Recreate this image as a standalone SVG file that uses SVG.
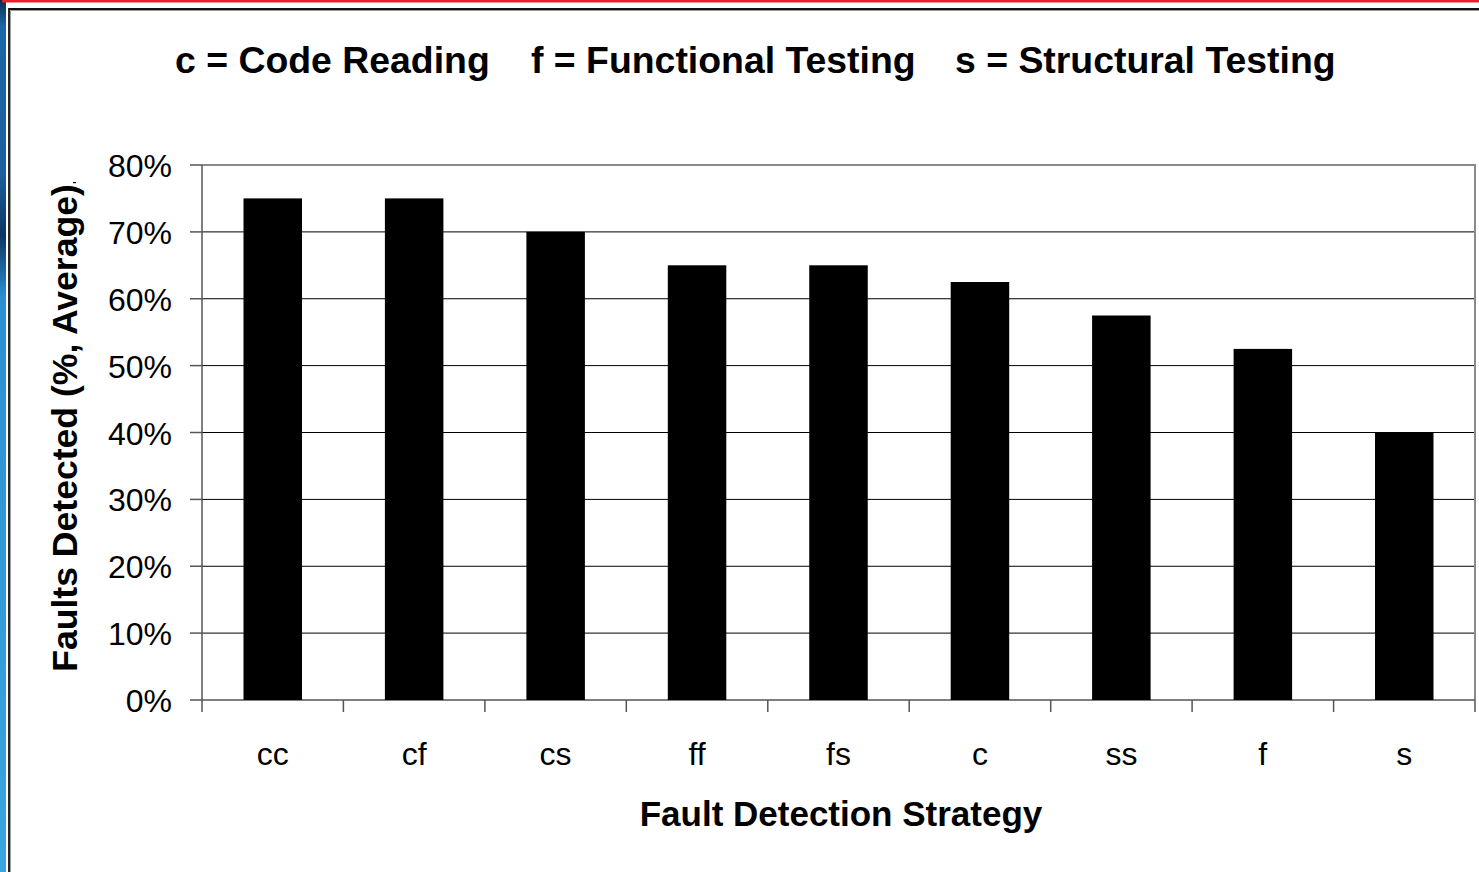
<svg xmlns="http://www.w3.org/2000/svg" width="1479" height="872" viewBox="0 0 1479 872">
  <defs>
    <linearGradient id="blueStrip" x1="0" y1="0" x2="0" y2="1">
      <stop offset="0" stop-color="#0a2c52"/>
      <stop offset="0.03" stop-color="#1c67a6"/>
      <stop offset="0.2" stop-color="#1b5f9c"/>
      <stop offset="0.27" stop-color="#0b3663"/>
      <stop offset="0.34" stop-color="#2b8fd0"/>
      <stop offset="1" stop-color="#3ba5df"/>
    </linearGradient>
  </defs>
  <style>
    .title { font-family: "Liberation Sans", Arial, sans-serif; font-weight: bold; font-size: 37.4px; fill: #000; }
    .axtitle { font-family: "Liberation Sans", Arial, sans-serif; font-weight: bold; font-size: 35px; fill: #000; }
    .tick { font-family: "Liberation Sans", Arial, sans-serif; font-size: 32px; fill: #000; }
    .grid { stroke: #000; stroke-width: 1; }
    .tk { stroke: #555; stroke-width: 1.5; }
    .bar { fill: #000; }
  </style>
  <rect x="0" y="0" width="1479" height="872" fill="#fff"/>
  <g id="frame">
    <rect x="0" y="0" width="6" height="872" fill="url(#blueStrip)"/>
    <rect x="2" y="0" width="1477" height="2.5" fill="#e8202e"/>
    <path d="M9 880 V9 H1490" fill="none" stroke="#111" stroke-width="1.8"/>
    <path d="M10.5 880 V10.5 H1490" fill="none" stroke="#9a9a9a" stroke-width="1"/>
  </g>
  <g id="title">
    <text class="title" x="175" y="73">c = Code Reading</text>
    <text class="title" x="531" y="73">f = Functional Testing</text>
    <text class="title" x="955" y="73">s = Structural Testing</text>
  </g>
  <g id="gridlines">
    <line class="grid" x1="202" y1="231.9" x2="1475" y2="231.9"/>
    <line class="grid" x1="202" y1="298.75" x2="1475" y2="298.75"/>
    <line class="grid" x1="202" y1="365.6" x2="1475" y2="365.6"/>
    <line class="grid" x1="202" y1="432.5" x2="1475" y2="432.5"/>
    <line class="grid" x1="202" y1="499.4" x2="1475" y2="499.4"/>
    <line class="grid" x1="202" y1="566.25" x2="1475" y2="566.25"/>
    <line class="grid" x1="202" y1="633.1" x2="1475" y2="633.1"/>
  </g>
  <g id="plot-border">
    <path d="M202 165 H1475 V700" fill="none" stroke="#8a8a8a" stroke-width="2"/>
    <line x1="202" y1="165" x2="202" y2="712" stroke="#555" stroke-width="1.5"/>
    <line x1="202" y1="700" x2="1475" y2="700" stroke="#555" stroke-width="1.5"/>
  </g>
  <g id="bars">
    <rect class="bar" x="243.5" y="198.4" width="58.5" height="501.6"/>
    <rect class="bar" x="384.9" y="198.4" width="58.5" height="501.6"/>
    <rect class="bar" x="526.4" y="231.9" width="58.5" height="468.1"/>
    <rect class="bar" x="667.8" y="265.3" width="58.5" height="434.7"/>
    <rect class="bar" x="809.25" y="265.3" width="58.5" height="434.7"/>
    <rect class="bar" x="950.7" y="282" width="58.5" height="418"/>
    <rect class="bar" x="1092.1" y="315.5" width="58.5" height="384.5"/>
    <rect class="bar" x="1233.6" y="348.9" width="58.5" height="351.1"/>
    <rect class="bar" x="1375" y="432.5" width="58.5" height="267.5"/>
  </g>
  <g id="y-ticks">
    <line class="tk" x1="190" y1="165" x2="202" y2="165"/>
    <line class="tk" x1="190" y1="231.9" x2="202" y2="231.9"/>
    <line class="tk" x1="190" y1="298.75" x2="202" y2="298.75"/>
    <line class="tk" x1="190" y1="365.6" x2="202" y2="365.6"/>
    <line class="tk" x1="190" y1="432.5" x2="202" y2="432.5"/>
    <line class="tk" x1="190" y1="499.4" x2="202" y2="499.4"/>
    <line class="tk" x1="190" y1="566.25" x2="202" y2="566.25"/>
    <line class="tk" x1="190" y1="633.1" x2="202" y2="633.1"/>
    <line class="tk" x1="190" y1="700" x2="202" y2="700"/>
  </g>
  <g id="x-ticks">
    <line class="tk" x1="343.4" y1="700" x2="343.4" y2="712"/>
    <line class="tk" x1="484.9" y1="700" x2="484.9" y2="712"/>
    <line class="tk" x1="626.3" y1="700" x2="626.3" y2="712"/>
    <line class="tk" x1="767.8" y1="700" x2="767.8" y2="712"/>
    <line class="tk" x1="909.2" y1="700" x2="909.2" y2="712"/>
    <line class="tk" x1="1050.7" y1="700" x2="1050.7" y2="712"/>
    <line class="tk" x1="1192.1" y1="700" x2="1192.1" y2="712"/>
    <line class="tk" x1="1333.6" y1="700" x2="1333.6" y2="712"/>
    <line class="tk" x1="1475" y1="700" x2="1475" y2="712"/>
  </g>
  <g id="y-labels" text-anchor="end">
    <text class="tick" x="172" y="177">80%</text>
    <text class="tick" x="172" y="243.9">70%</text>
    <text class="tick" x="172" y="310.75">60%</text>
    <text class="tick" x="172" y="377.6">50%</text>
    <text class="tick" x="172" y="444.5">40%</text>
    <text class="tick" x="172" y="511.4">30%</text>
    <text class="tick" x="172" y="578.25">20%</text>
    <text class="tick" x="172" y="645.1">10%</text>
    <text class="tick" x="172" y="712">0%</text>
  </g>
  <g id="x-labels" text-anchor="middle">
    <text class="tick" x="272.7" y="765">cc</text>
    <text class="tick" x="414.2" y="765">cf</text>
    <text class="tick" x="555.6" y="765">cs</text>
    <text class="tick" x="697.1" y="765">ff</text>
    <text class="tick" x="838.5" y="765">fs</text>
    <text class="tick" x="979.9" y="765">c</text>
    <text class="tick" x="1121.4" y="765">ss</text>
    <text class="tick" x="1262.8" y="765">f</text>
    <text class="tick" x="1404.3" y="765">s</text>
  </g>
  <g id="axis-titles">
    <text class="axtitle" x="841" y="826" text-anchor="middle">Fault Detection Strategy</text>
    <text class="axtitle" style="font-size:35.6px" transform="translate(77,428) rotate(-90)" text-anchor="middle">Faults Detected (%, Average)</text>
    <rect x="73" y="182" width="3" height="1.2" fill="#000"/>
  </g>
</svg>
